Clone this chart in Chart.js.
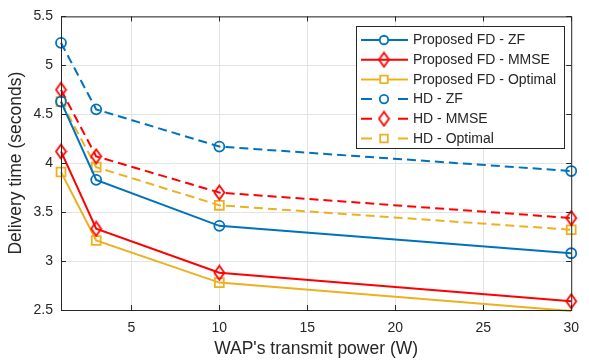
<!DOCTYPE html>
<html>
<head>
<meta charset="utf-8">
<script src="https://cdn.jsdelivr.net/npm/chart.js@4/dist/chart.umd.min.js"></script>
<style>
html,body{margin:0;padding:0;background:#fff;}
#wrap{width:589px;height:360px;position:relative;}
</style>
</head>
<body>
<div id="wrap"><canvas id="c" width="589" height="360"></canvas></div>
<script>
const xValues = [1, 3, 10, 30];
const fdZF = [4.63, 3.83, 3.36, 3.08];
const fdMMSE = [4.12, 3.33, 2.88, 2.59];
const fdOpt = [3.91, 3.21, 2.78, 2.49];
const hdZF = [5.23, 4.55, 4.17, 3.92];
const hdMMSE = [4.75, 4.07, 3.70, 3.44];
const hdOpt = [4.63, 3.96, 3.57, 3.32];
const seriesLabels = ['Proposed FD - ZF','Proposed FD - MMSE','Proposed FD - Optimal','HD - ZF','HD - MMSE','HD - Optimal'];
const xTicks = [5, 10, 15, 20, 25, 30];
const yTicks = [2.5, 3, 3.5, 4, 4.5, 5, 5.5];

const BLUE = '#0072BD', RED = '#FF0000', YEL = '#EDB120', AX = '#262626';
const FONT = '"Liberation Sans", Arial, sans-serif';

function diamond(color){
  const c = document.createElement('canvas');
  c.width = 13; c.height = 17;
  const g = c.getContext('2d');
  g.strokeStyle = color; g.lineWidth = 1.8;
  g.beginPath();
  g.moveTo(6.5, 1.5); g.lineTo(11.5, 8.5); g.lineTo(6.5, 15.5); g.lineTo(1.5, 8.5); g.closePath();
  g.stroke();
  return c;
}
const dRed = diamond(RED);

function pts(arr){ return arr.map((v,i)=>({x:xValues[i], y:v})); }
function ds(label, data, color, style, dashed, radius){
  return {
    label, data: pts(data), borderColor: color, backgroundColor: 'rgba(0,0,0,0)',
    pointBorderColor: color, pointBackgroundColor: 'rgba(0,0,0,0)',
    pointStyle: style, pointRadius: radius, pointHoverRadius: radius, pointBorderWidth: 1.8,
    borderWidth: 2, borderDash: dashed ? [9,5] : [], tension: 0, clip: false
  };
}
const datasets = [
  ds(seriesLabels[0], fdZF, BLUE, 'circle', false, 5),
  ds(seriesLabels[1], fdMMSE, RED, dRed, false, 6),
  ds(seriesLabels[2], fdOpt, YEL, 'rect', false, [6.3,6.3,6.3,0]),
  ds(seriesLabels[3], hdZF, BLUE, 'circle', true, 5),
  ds(seriesLabels[4], hdMMSE, RED, dRed, true, 6),
  ds(seriesLabels[5], hdOpt, YEL, 'rect', true, 6.3)
];

const boxPlugin = {
  id: 'box',
  afterDraw(chart){
    const {ctx, chartArea:a, scales} = chart;
    ctx.save();
    ctx.strokeStyle = AX; ctx.lineWidth = 1;
    ctx.strokeRect(a.left+0.5, a.top+0.5, a.right-a.left, a.bottom-a.top);
    ctx.beginPath();
    xTicks.forEach(v=>{
      const px = Math.round(scales.x.getPixelForValue(v))+0.5;
      ctx.moveTo(px, a.bottom); ctx.lineTo(px, a.bottom-5);
      ctx.moveTo(px, a.top); ctx.lineTo(px, a.top+5);
    });
    yTicks.forEach(v=>{
      const py = Math.round(scales.y.getPixelForValue(v))+0.5;
      ctx.moveTo(a.left, py); ctx.lineTo(a.left+5, py);
      ctx.moveTo(a.right, py); ctx.lineTo(a.right-5, py);
    });
    ctx.stroke();

    // legend
    const L = 356, T = 26, R = 564, B = 148;
    ctx.fillStyle = '#fff';
    ctx.fillRect(L, T, R-L, B-T);
    ctx.strokeStyle = AX; ctx.lineWidth = 1;
    ctx.strokeRect(L+0.5, T+0.5, R-L, B-T);
    ctx.font = '14px ' + FONT;
    ctx.textBaseline = 'middle';
    chart.data.datasets.forEach((d, i)=>{
      const y = 40 + i*19.7;
      ctx.strokeStyle = d.borderColor; ctx.lineWidth = 2;
      ctx.setLineDash([]);
      ctx.beginPath();
      if (d.borderDash.length){
        ctx.moveTo(361, y); ctx.lineTo(372, y);
        ctx.moveTo(398, y); ctx.lineTo(408, y);
      } else {
        ctx.moveTo(361, y); ctx.lineTo(408, y);
      }
      ctx.stroke();
      const r = Array.isArray(d.pointRadius) ? d.pointRadius[0] : d.pointRadius;
      ctx.fillStyle = '#fff';
      ctx.lineWidth = 1.8; ctx.strokeStyle = d.borderColor;
      Chart.helpers.drawPoint(ctx, {pointStyle: d.pointStyle, radius: r*0.85, borderWidth: 1.8, rotation: 0}, 384, y);
      ctx.fillStyle = AX;
      ctx.fillText(d.label, 413, y+0.5);
    });
    ctx.restore();
  }
};

new Chart(document.getElementById('c'), {
  type: 'line',
  data: { datasets },
  plugins: [boxPlugin],
  options: {
    responsive: false, animation: false,
    layout: { padding: { top: 10, right: 10, left: 0, bottom: 0 } },
    plugins: { legend: { display: false }, tooltip: { enabled: false } },
    scales: {
      x: {
        type: 'linear', min: 1, max: 30,
        afterBuildTicks(s){ s.ticks = xTicks.map(v=>({value:v})); },
        afterFit(s){ s.height = 50; },
        grid: { color: '#E3E3E3', drawTicks: false, lineWidth: 1 },
        border: { display: false },
        ticks: { color: AX, font: { size: 14, family: FONT }, padding: 10, maxRotation: 0 },
        title: { display: true, text: "WAP's transmit power (W)", color: AX, font: { size: 17.5, family: FONT }, padding: { top: 0, bottom: 0 } }
      },
      y: {
        type: 'linear', min: 2.5, max: 5.5,
        afterBuildTicks(s){ s.ticks = yTicks.map(v=>({value:v})); },
        afterFit(s){ s.width = 61; },
        grid: { color: '#E3E3E3', drawTicks: false, lineWidth: 1 },
        border: { display: false },
        ticks: { color: AX, font: { size: 14, family: FONT }, padding: 8,
          callback: v => String(v) },
        title: { display: true, text: 'Delivery time (seconds)', color: AX, font: { size: 17.5, family: FONT }, padding: { top: 6, bottom: 0 } }
      }
    }
  }
});
</script>
</body>
</html>
